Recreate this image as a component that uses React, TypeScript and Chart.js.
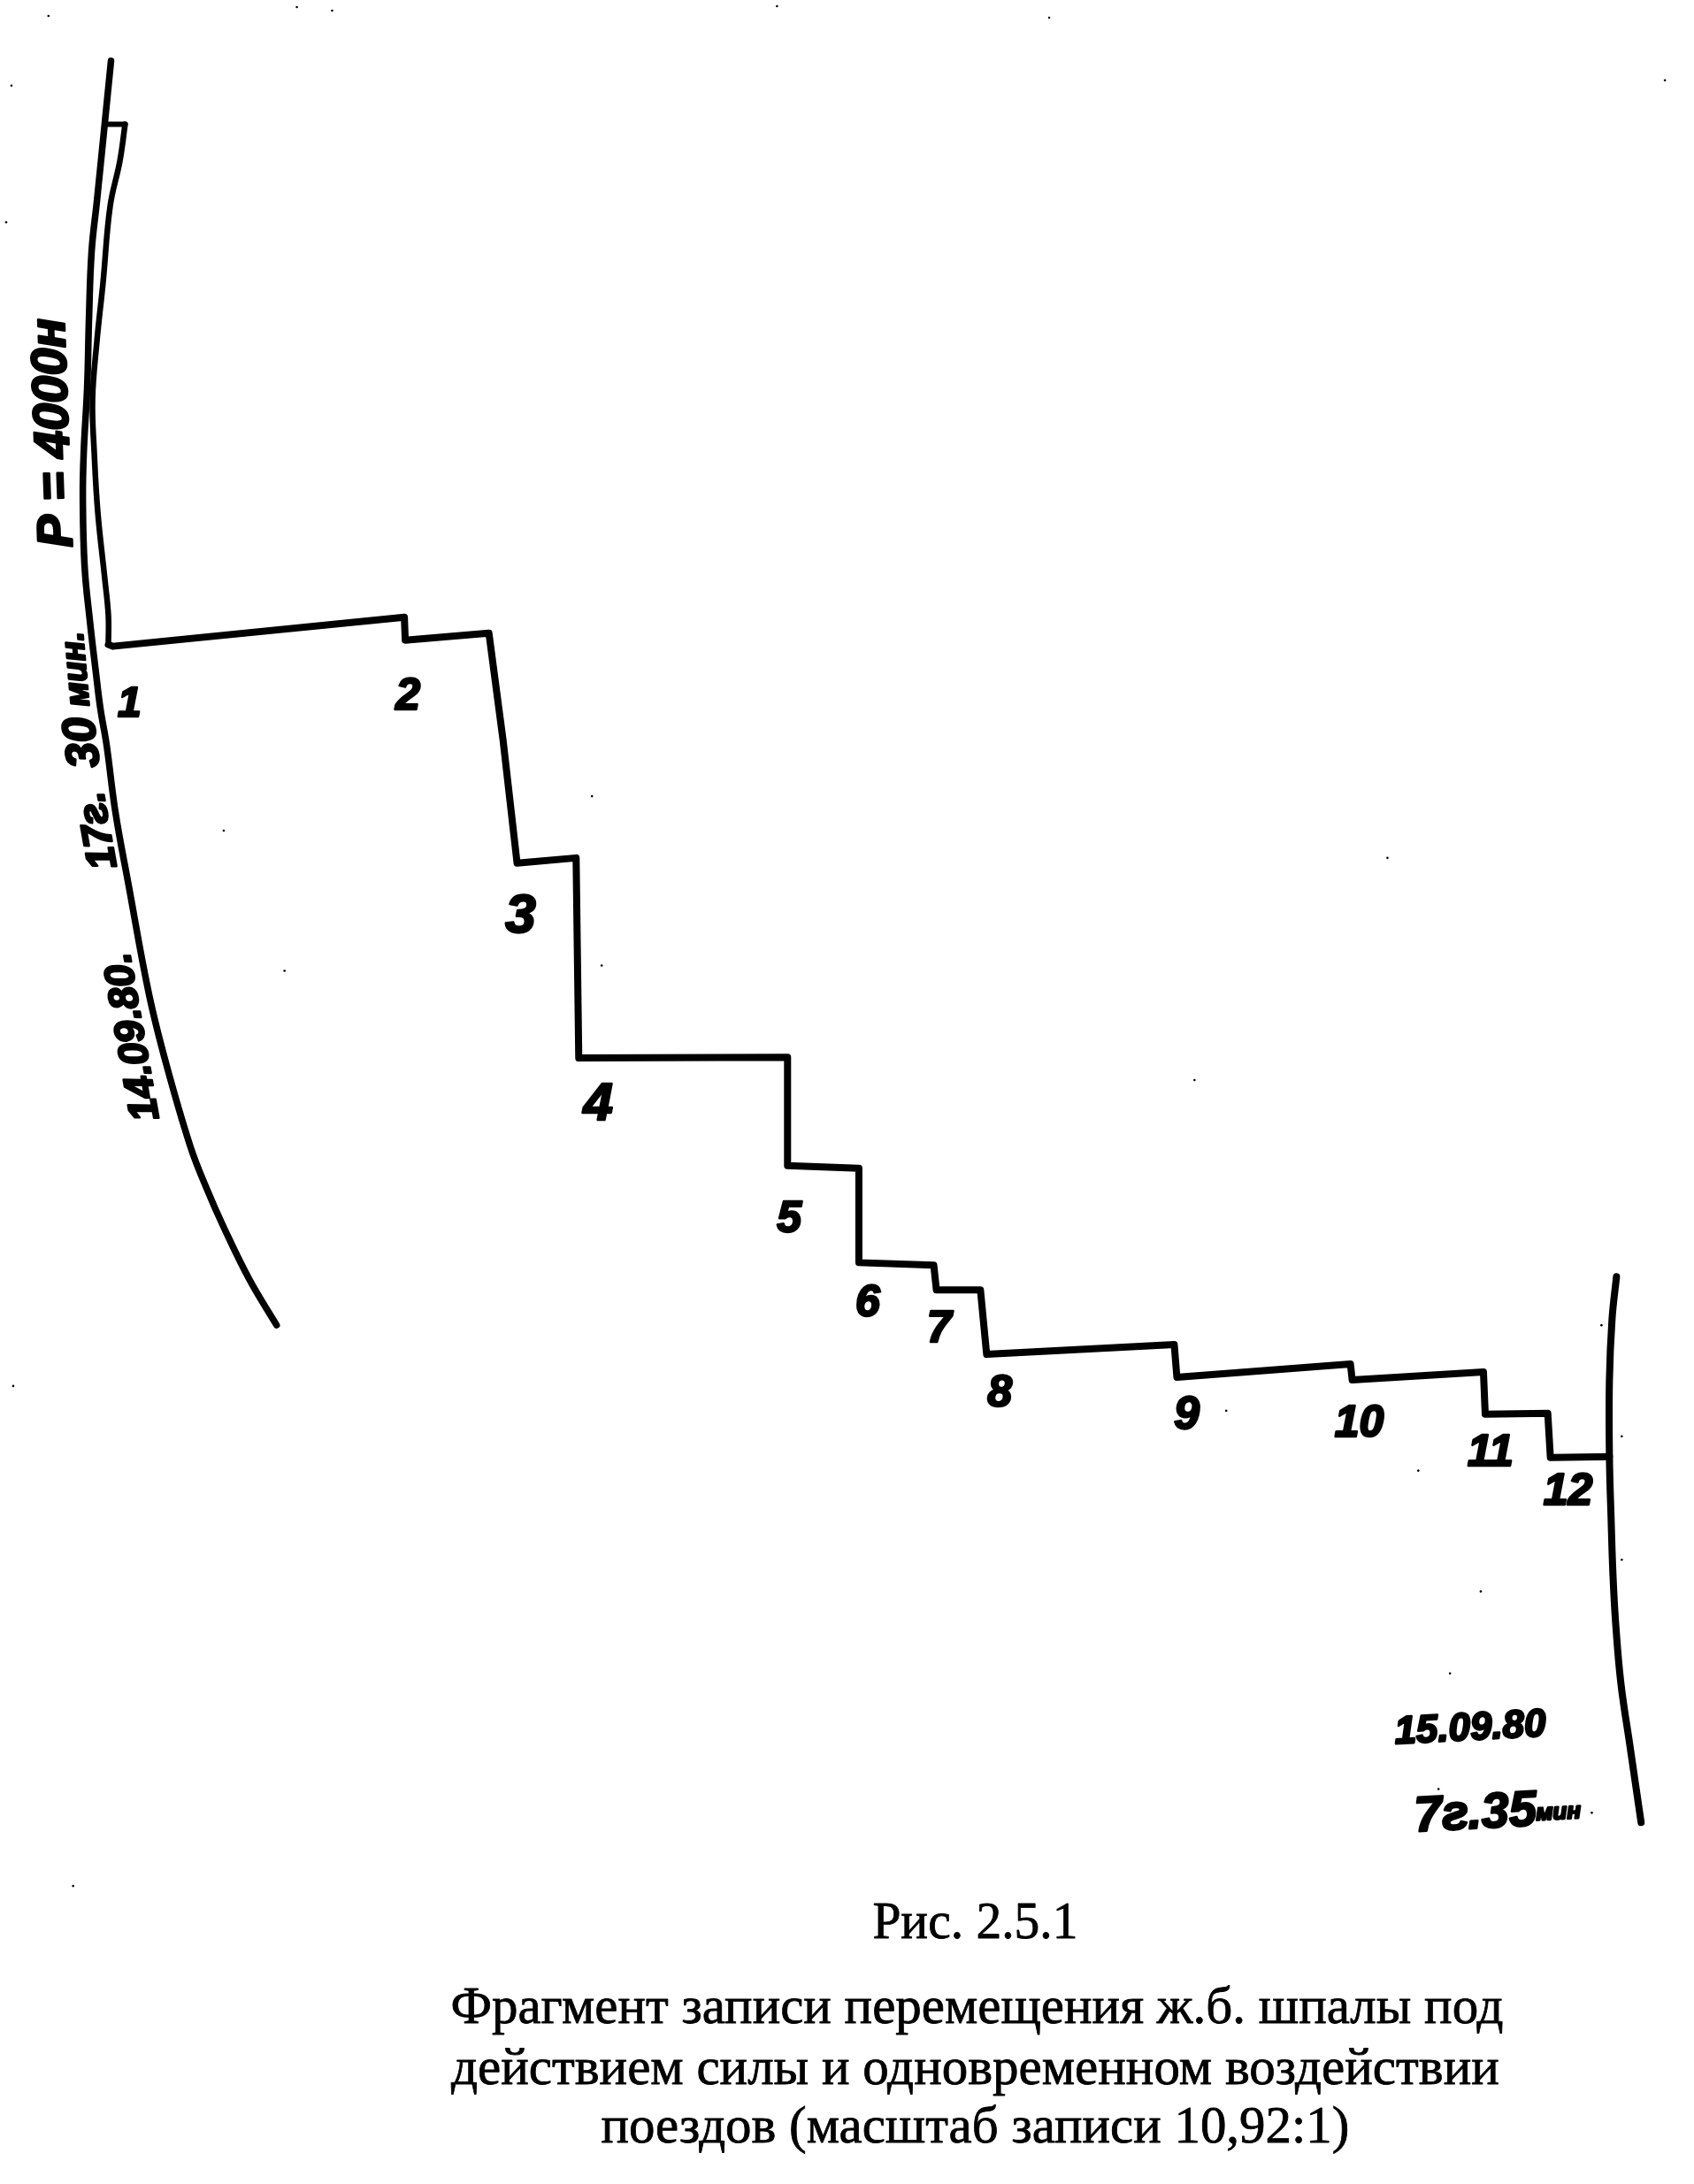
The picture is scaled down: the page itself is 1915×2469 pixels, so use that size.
import React, { useEffect, useRef } from "react";
import { Chart, registerables } from "chart.js";

Chart.register(...registerables);

const W = 1915;
const H = 2469;

type P = { x: number; y: number };
const pts = (a: number[][]): P[] => a.map(([x, y]) => ({ x, y }));

// Recorded traces, in picture units
const outerCurve = [[122,65],[115,135],[106,224],[100,281],[97,357],[95,434],[91,510],[90,561],[92,638],[98,700],[105,760],[110,800],[117,841],[127,917],[142,1000],[165,1123],[185,1204],[212,1296],[231,1345],[250,1388],[279,1447],[310,1499]];
const topStep = [[115,137],[138,137]];
const innerCurve = [[138,137],[132,179],[121,230],[113,316],[106,383],[101,449],[103,510],[107,577],[115,653],[119,694],[119,727]];
const stairs = [[119,727],[124,729],[455,696],[456,722],[551,714],[567,835],[583,975],[650,969],[653,1196],[890,1195],[890,1318],[971,1321],[971,1428],[1056,1431],[1059,1459],[1109,1459],[1116,1532],[1329,1521],[1332,1558],[1529,1543],[1531,1561],[1680,1552],[1682,1600],[1753,1599],[1756,1649],[1823,1648]];
const rightCurve = [[1831,1444],[1826,1492],[1823,1561],[1823,1648],[1825,1721],[1827,1781],[1830,1836],[1836,1905],[1846,1974],[1859,2063]];
const specks = [[333,4],[373,8],[9,93],[3,248],[51,14],[250,938],[319,1097],[668,899],[679,1091],[1388,1596],[1606,1664],[1837,1625],[1837,1765],[1677,1801],[1642,1894],[1629,2025],[1803,2052],[1814,1499],[1187,16],[878,3],[11,1568],[79,2135],[1886,87],[1571,969],[1352,1221]];

const stepLabels = ["1","2","3","4","5","6","7","8","9","10","11","12"];
const stepLabelX = [143,459,587,675,892,981,1062,1131,1343,1539,1688,1776];
const stepLabelY = [795,787,1036,1250,1380,1475,1504,1577,1602,1611,1645,1689];
const stepLabelSize = [48,50,62,60,50,50,50,50,52,50,50,50];

const noteTexts = ["Р = 4000н","мин.","30","17г.","14.09.80.","15.09.80","7г.35","мин"];
const noteX = [58,83,91,108,147,1665,1671,1765];
const noteY = [487,755,838,938,1172,1957,2054,2052];
const noteAngle = [-92,-95,-97,-100,-100,-3,-3,-3];
const noteSize = [56,38,52,46,46,44,56,26];

const captionLines = ["Рис. 2.5.1","Фрагмент записи перемещения ж.б. шпалы под","действием силы и одновременном воздействии","поездов (масштаб записи 10,92:1)"];
const captionX = [1103,1105,1103,1103];
const captionY = [2194,2290,2360,2426];
const captionWidth = [232,1190,1186,846];

const textPlugin = {
  id: "paperText",
  afterDraw(chart: any) {
    const { ctx, scales } = chart;
    const sx = (v: number) => scales.x.getPixelForValue(v);
    const sy = (v: number) => scales.y.getPixelForValue(v);
    ctx.save();
    ctx.fillStyle = "#000";
    ctx.strokeStyle = "#000";
    ctx.lineJoin = "round";
    ctx.textAlign = "center";
    ctx.textBaseline = "middle";
    ctx.lineWidth = 2.5;
    stepLabels.forEach((t, i) => {
      ctx.font = `italic bold ${stepLabelSize[i]}px "Liberation Sans"`;
      ctx.fillText(t, sx(stepLabelX[i]), sy(stepLabelY[i]));
      ctx.strokeText(t, sx(stepLabelX[i]), sy(stepLabelY[i]));
    });
    noteTexts.forEach((t, i) => {
      ctx.save();
      ctx.translate(sx(noteX[i]), sy(noteY[i]));
      ctx.rotate((noteAngle[i] * Math.PI) / 180);
      ctx.font = `italic bold ${noteSize[i]}px "Liberation Sans"`;
      ctx.fillText(t, 0, 0);
      ctx.strokeText(t, 0, 0);
      ctx.restore();
    });
    ctx.textBaseline = "alphabetic";
    ctx.font = '59px "Liberation Serif"';
    ctx.lineWidth = 0.8;
    captionLines.forEach((t, i) => {
      ctx.fillText(t, sx(captionX[i]), sy(captionY[i]), captionWidth[i]);
      ctx.strokeText(t, sx(captionX[i]), sy(captionY[i]), captionWidth[i]);
    });
    ctx.restore();
  },
};

export default function App() {
  const ref = useRef<HTMLCanvasElement>(null);
  useEffect(() => {
    const line = (label: string, data: number[][], borderWidth: number, tension: number) => ({
      label,
      data: pts(data),
      showLine: true,
      borderColor: "#000",
      borderWidth,
      tension,
      pointRadius: 0,
      borderCapStyle: "round",
      borderJoinStyle: "round",
      fill: false,
    });
    const chart = new Chart(ref.current!, {
      type: "scatter",
      data: {
        datasets: [
          line("outer", outerCurve, 7.5, 0.4),
          line("topStep", topStep, 6, 0),
          line("inner", innerCurve, 6.5, 0.4),
          line("stairs", stairs, 8, 0),
          line("right", rightCurve, 8, 0.4),
          { label: "specks", data: pts(specks), pointRadius: 1.3, backgroundColor: "#000", borderWidth: 0, showLine: false },
        ] as any,
      },
      options: {
        animation: false,
        responsive: false,
        devicePixelRatio: 1,
        layout: { padding: 0 },
        plugins: { legend: { display: false }, tooltip: { enabled: false }, title: { display: false } },
        scales: {
          x: { type: "linear", min: 0, max: W, display: false },
          y: { type: "linear", min: 0, max: H, reverse: true, display: false },
        },
      },
      plugins: [textPlugin],
    });
    return () => chart.destroy();
  }, []);
  return (
    <div style={{ position: "absolute", left: 0, top: 0, width: W, height: H, background: "#fff", overflow: "hidden" }}>
      <canvas ref={ref} width={W} height={H} style={{ display: "block" }} />
    </div>
  );
}
